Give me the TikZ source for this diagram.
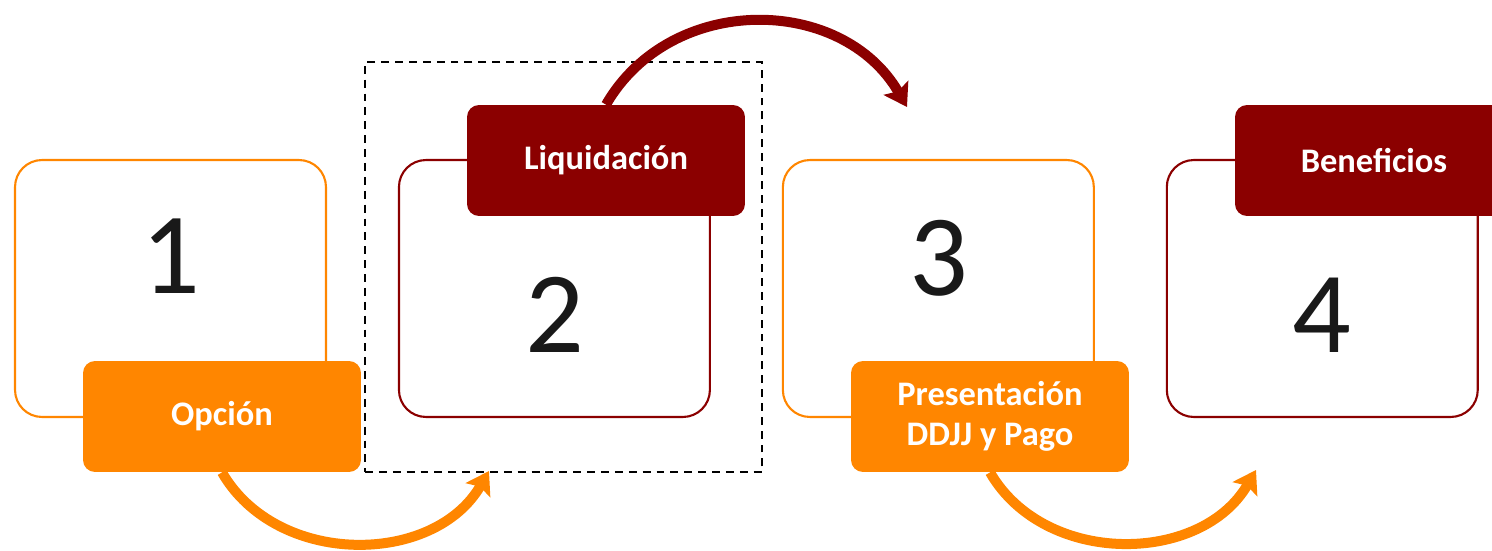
\documentclass[tikz,border=0pt]{standalone}
\usepackage{fontspec}
\setmainfont{Carlito}
\usetikzlibrary{arrows.meta,positioning}
\definecolor{naranja}{RGB}{255,134,0}
\definecolor{bordo}{RGB}{139,0,0}

\begin{document}
\begin{tikzpicture}[x=0.02cm,y=-0.02cm,>={Stealth[length=0.44cm,width=0.56cm,inset=0.08cm]},node distance=1.46cm]
  \tikzstyle{paso}=[rectangle,rounded corners=0.54cm,minimum width=6.22cm,minimum height=5.14cm,line width=1.2pt,fill=white,outer sep=0pt]
  \tikzstyle{etiqueta}=[rectangle,rounded corners=0.24cm,minimum width=5.56cm,minimum height=2.22cm,text=white,font=\bfseries\fontsize{19.6}{22.8}\selectfont,align=center]
  \tikzstyle{numero}=[font=\fontsize{66}{70}\selectfont,text=black!90]
  \tikzstyle{flecha}=[->,line width=0.2cm]

  \useasboundingbox (0,0) rectangle (1492,551);
  \clip (0,0) rectangle (1492,551);

  % cajas de los pasos
  \node[paso,draw=naranja] (box1) at (170.5,288.5) {};
  \node[paso,draw=bordo,right=of box1] (box2) {};
  \node[paso,draw=naranja,right=of box2] (box3) {};
  \node[paso,draw=bordo,right=of box3] (box4) {};

  \node[numero] (num1) at (171,256) {1};
  \node[numero] (num2) at (555,315) {2};
  \node[numero] (num3) at (939,258) {3};
  \node[numero] (num4) at (1322,315) {4};

  \node[draw,dashed,dash pattern=on 4.5pt off 3.4pt,line width=1.1pt,minimum width=7.94cm,minimum height=8.2cm] (marco) at (563.5,267) {};

  \node[etiqueta,fill=naranja] (lab1) at (222,416.5) {Opción};
  \node[etiqueta,fill=bordo] (lab2) at (606,160.5) {Liquidación};
  \node[etiqueta,fill=naranja] (lab3) at (990,416.5) {Presentación\\DDJJ y Pago};
  \node[etiqueta,fill=bordo] (lab4) at (1374,160.5) {Beneficios};

  \coordinate (llega2) at (489,471);
  \coordinate (llega3) at (907,107);
  \coordinate (llega4) at (1256,470);

  \draw[flecha,naranja] (lab1.south) to[out=-60,in=-120,looseness=1.05] (llega2);
  \draw[flecha,bordo] (lab2.north) to[out=60,in=120,looseness=1.1] (llega3);
  \draw[flecha,naranja] (lab3.south) to[out=-60,in=-120,looseness=1.05] (llega4);
\end{tikzpicture}
\end{document}
